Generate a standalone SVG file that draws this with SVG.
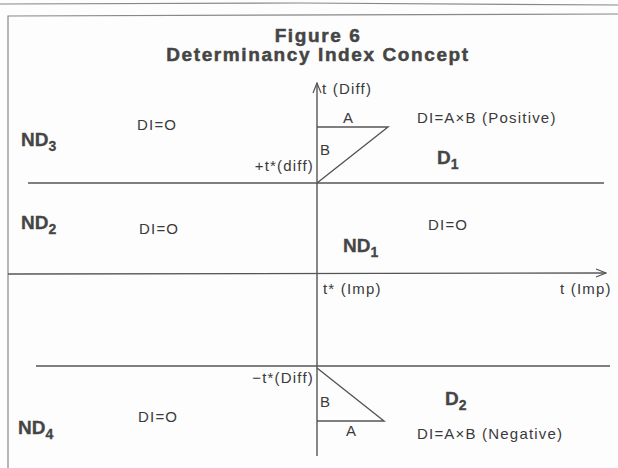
<svg xmlns="http://www.w3.org/2000/svg" width="618" height="468" viewBox="0 0 618 468">
<style>
text{font-family:"Liberation Sans",Arial,sans-serif;fill:#3a3a3a}
.t{font-weight:bold;font-size:19px;letter-spacing:1.6px;text-anchor:middle;fill:#454545;stroke:#454545;stroke-width:0.5px}
.s{font-size:15px;letter-spacing:1.2px}
.b{font-weight:bold;font-size:19px;fill:#454545;stroke:#454545;stroke-width:0.3px}
.ln{stroke:#555;stroke-width:1.4;fill:none}
.fr{stroke:#888;stroke-width:1.2;fill:none}
</style>
<defs>
<marker id="ah" markerWidth="12" markerHeight="10" refX="11" refY="5" orient="auto" markerUnits="userSpaceOnUse">
<path d="M1,1 L11,5 L1,9" fill="none" stroke="#555" stroke-width="1.2"/>
</marker>
</defs>
<rect width="618" height="468" fill="#fdfdfd"/>
<g id="frame">
<path class="fr" d="M0,4 L300,3 L618,5"/>
<path class="fr" d="M8,468 L8,16 L618,14"/>
</g>
<g id="title">
<text class="t" x="318" y="42">Figure 6</text>
<text class="t" x="318" y="61">Determinancy Index Concept</text>
</g>
<g id="connectors">
<line class="ln" x1="317" y1="456" x2="317" y2="83" marker-end="url(#ah)"/>
<line class="ln" x1="28" y1="183" x2="604" y2="183"/>
<line class="ln" x1="8" y1="274" x2="606" y2="273" marker-end="url(#ah)"/>
<line class="ln" x1="36" y1="366" x2="610" y2="366"/>
</g>
<g id="D1">
<path class="ln" d="M317,127 L388,127 L317,183"/>
<text class="s" x="343" y="123">A</text>
<text class="s" x="320" y="155">B</text>
<text class="s" x="417" y="123">DI=A×B (Positive)</text>
<text class="b" x="437" y="164">D<tspan font-size="14" dy="5">1</tspan></text>
<text class="s" x="314" y="171" text-anchor="end">+t*(diff)</text>
<text class="s" x="322" y="94">t (Diff)</text>
</g>
<g id="ND3">
<text class="b" x="21" y="146">ND<tspan font-size="14" dy="5">3</tspan></text>
<text class="s" x="137" y="130">DI=O</text>
</g>
<g id="ND2">
<text class="b" x="21" y="229">ND<tspan font-size="14" dy="5">2</tspan></text>
<text class="s" x="139" y="234">DI=O</text>
</g>
<g id="ND1">
<text class="b" x="343" y="252">ND<tspan font-size="14" dy="5">1</tspan></text>
<text class="s" x="428" y="230">DI=O</text>
<text class="s" x="323" y="294">t* (Imp)</text>
<text class="s" x="560" y="294">t (Imp)</text>
</g>
<g id="D2">
<path class="ln" d="M317,368 L384,421 L317,421"/>
<text class="s" x="314" y="383" text-anchor="end">−t*(Diff)</text>
<text class="s" x="320" y="407">B</text>
<text class="s" x="346" y="436">A</text>
<text class="b" x="445" y="405">D<tspan font-size="14" dy="5">2</tspan></text>
<text class="s" x="417" y="439">DI=A×B (Negative)</text>
</g>
<g id="ND4">
<text class="b" x="18" y="434">ND<tspan font-size="14" dy="5">4</tspan></text>
<text class="s" x="138" y="422">DI=O</text>
</g>
</svg>
